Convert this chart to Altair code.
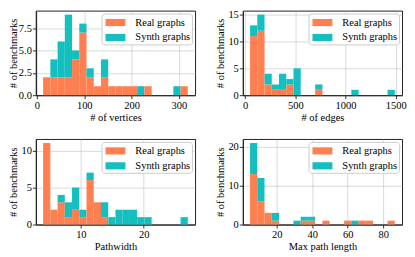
import altair as alt
import pandas as pd

# ---- data (histogram counts per bin) ----
series_names = ["Real graphs", "Synth graphs"]

vert_start, vert_width = 13.0, 15.3
vert_real = [2, 2, 2, 2, 4, 7, 2, 1, 2, 1, 1, 1, 1, 0, 1, 0, 0, 0, 0, 1]
vert_synth = [0, 2, 4, 7, 1, 1, 1, 0, 2, 0, 0, 0, 0, 1, 0, 0, 0, 0, 1, 0]

edge_start, edge_width = 50.0, 72.0
edge_real = [11, 12, 2, 1, 1, 2, 0, 0, 0, 1, 0, 0, 0, 0, 0, 0, 0, 0, 0, 0]
edge_synth = [2, 3, 2, 1, 3, 1, 5, 0, 0, 1, 0, 0, 0, 0, 1, 0, 0, 0, 0, 1]

pw_start, pw_width = 4.0, 1.15
pw_real = [11, 2, 3, 1, 2, 1, 6, 3, 1, 0, 0, 0, 0, 0, 0, 0, 0, 0, 0, 0]
pw_synth = [0, 0, 1, 2, 3, 1, 1, 0, 2, 1, 2, 2, 2, 1, 1, 0, 0, 0, 0, 1]

mpl_start, mpl_width = 5.0, 4.075
mpl_real = [13, 6, 3, 1, 0, 0, 0, 1, 1, 0, 1, 0, 0, 1, 0, 1, 1, 0, 0, 1]
mpl_synth = [8, 6, 0, 2, 0, 0, 1, 1, 1, 0, 0, 0, 0, 0, 1, 0, 0, 0, 0, 0]

ORANGE = "#ff7f50"
CYAN = "#14bfbf"
FONT = "Liberation Serif, Times New Roman, serif"
FS = 10.5
RECT = "M-1.25,-0.45H1.25V0.45H-1.25Z"


def table(start, width, real, synth):
    rows = []
    for i, (r, s) in enumerate(zip(real, synth)):
        lo = start + i * width
        for k, (name, c) in enumerate(zip(series_names, (r, s))):
            if c > 0:
                rows.append({"lo": lo, "hi": lo + width, "count": c,
                             "series": name, "ord": k})
    return pd.DataFrame(rows)


def panel(start, width, real, synth, xdom, xticks, ymax, yticks, xtitle, yfmt, h):
    df = table(start, width, real, synth)
    return alt.Chart(df).transform_window(
        top="sum(count)", groupby=["lo"], sort=[alt.SortField("ord")], frame=[None, 0]
    ).transform_calculate(
        bottom="datum.top - datum.count"
    ).mark_bar(strokeWidth=0).encode(
        x=alt.X("lo:Q", title=xtitle,
                scale=alt.Scale(domain=xdom, nice=False, zero=False),
                axis=alt.Axis(values=xticks, format="d")),
        x2="hi:Q",
        y=alt.Y("top:Q", title="# of benchmarks",
                scale=alt.Scale(domain=[0, ymax], nice=False),
                axis=alt.Axis(values=yticks, format=yfmt)),
        y2="bottom:Q",
        color=alt.Color("series:N",
                        scale=alt.Scale(domain=series_names, range=[ORANGE, CYAN]),
                        legend=alt.Legend(title=None, orient="top-right")),
    ).properties(width=160, height=h)


p1 = panel(vert_start, vert_width, vert_real, vert_synth, [-2.3, 334.3],
           [0, 100, 200, 300], 9.45, [0, 2.5, 5, 7.5], "# of vertices", ".1f", 85)
p2 = panel(edge_start, edge_width, edge_real, edge_synth, [-22, 1562],
           [0, 500, 1000, 1500], 15.75, [0, 5, 10, 15], "# of edges", "d", 85)
p3 = panel(pw_start, pw_width, pw_real, pw_synth, [2.85, 28.15],
           [10, 20], 11.55, [0, 5, 10], "Pathwidth", "d", 86)
p4 = panel(mpl_start, mpl_width, mpl_real, mpl_synth, [0.93, 90.6],
           [20, 40, 60, 80], 22.05, [0, 10, 20], "Max path length", "d", 86)

chart = alt.concat(p1, p2, p3, p4, columns=2, spacing={"row": 14, "column": 19}).resolve_legend(
    color="independent"
).properties(
    padding={"left": 0, "top": 0, "right": 0, "bottom": 0},
    background="white",
).configure_view(
    stroke="#222222", strokeWidth=1
).configure_axis(
    labelFont=FONT, labelFontSize=FS, labelColor="black",
    titleFont=FONT, titleFontSize=FS, titleColor="black", titleFontWeight="normal",
    tickColor="black", tickSize=3.5, tickWidth=0.8,
    domain=True, domainColor="#222222", domainWidth=1,
    grid=True, gridColor="#b0b0b0", gridOpacity=0.6, gridWidth=0.8,
    labelFlush=False, labelPadding=1.5, titlePadding=2, zindex=1,
).configure_axisY(
    minExtent=17, maxExtent=17, titlePadding=0, labelPadding=1,
).configure_legend(
    labelFont=FONT, labelFontSize=FS, labelColor="black",
    fillColor="white", strokeColor="#cccccc", cornerRadius=3,
    padding=1, offset=3, rowPadding=1,
    symbolType=RECT, symbolSize=256, symbolStrokeWidth=0, symbolOpacity=1,
    symbolOffset=5, labelOffset=12,
)

chart.save("out.html", embed_options={"renderer": "svg", "actions": False})
